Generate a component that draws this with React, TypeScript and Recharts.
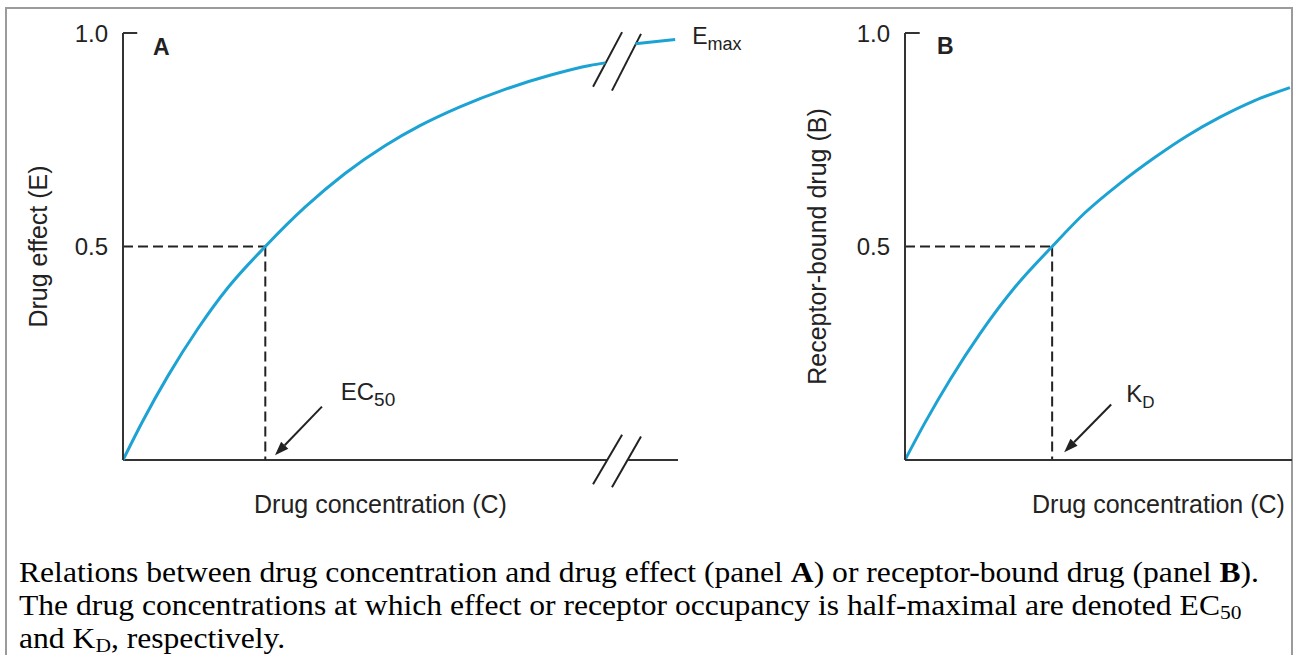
import React from "react";
import { LineChart, Line, XAxis, YAxis, ReferenceLine, ReferenceDot } from "recharts";

// Panel A: drawn concentration (EC50 = 1), effect
const concA = [0, 0.14, 0.316, 0.527, 0.738, 1.0, 1.279, 1.56, 1.841, 2.087, 2.368, 2.684, 3.0, 3.28, 3.39];
const effectA = [0, 0.092, 0.197, 0.308, 0.404, 0.5, 0.592, 0.671, 0.736, 0.783, 0.827, 0.868, 0.901, 0.924, 0.93];
// the bit past the axis break
const concAFar = [3.6, 3.88];
const effectAFar = [0.975, 0.985];

// Panel B: drawn concentration (KD = 1), bound fraction
const concB = [0, 0.136, 0.306, 0.51, 0.748, 1.0, 1.223, 1.461, 1.699, 1.916, 2.141, 2.365, 2.616];
const boundB = [0, 0.0875, 0.188, 0.296, 0.405, 0.5, 0.579, 0.648, 0.709, 0.759, 0.803, 0.84, 0.872];

const yTicks = [0.5, 1.0];

const SANS = "'Liberation Sans', Arial, Helvetica, sans-serif";
const SERIF = "'Liberation Serif', 'Times New Roman', serif";
const INK = "#222";
const AXIS = "#333";
const CURVE = "#1ca3d4";

const rowsA = concA.map((c, i) => ({ c, v: effectA[i] }));
const rowsAFar = concAFar.map((c, i) => ({ c, v: effectAFar[i] }));
const rowsB = concB.map((c, i) => ({ c, v: boundB[i] }));

const fmt = (v: number) => v.toFixed(1);

function Arrow(p: any) {
  const { x1, y1, x2, y2 } = p;
  const a = Math.atan2(y2 - y1, x2 - x1);
  const len = 14;
  const half = 5;
  const bx = x2 - len * Math.cos(a);
  const by = y2 - len * Math.sin(a);
  const nx = -Math.sin(a) * half;
  const ny = Math.cos(a) * half;
  return (
    <g>
      <line x1={x1} y1={y1} x2={bx} y2={by} stroke={INK} strokeWidth={2} />
      <polygon points={`${x2},${y2} ${bx + nx},${by + ny} ${bx - nx},${by - ny}`} fill={INK} />
    </g>
  );
}

const note = (main: string, sub: string, size = 24, subSize = 19) => (p: any) => (
  <text x={p.cx} y={p.cy} fill={INK} fontFamily={SANS} fontSize={size}>
    {main}
    <tspan fontSize={subSize} dy={6}>{sub}</tspan>
  </text>
);

const panelLetter = (s: string) => (p: any) => (
  <text x={p.cx} y={p.cy} fill={INK} fontFamily={SANS} fontSize={23} fontWeight="bold">{s}</text>
);

const xLabel = (shift: number) => (p: any) => {
  const vb = p.viewBox;
  return (
    <text x={vb.x + vb.width / 2 + shift} y={vb.y + 53} textAnchor="middle" fill={INK} fontFamily={SANS} fontSize={25}>
      Drug concentration (C)
    </text>
  );
};

const tickStyle = { fill: INK, fontSize: 24, fontFamily: SANS };
const yLabelStyle = { textAnchor: "middle" as const, fill: INK, fontSize: 25, fontFamily: SANS };
const dash = { stroke: INK, strokeWidth: 2, strokeDasharray: "10 5" };
const solid = { stroke: AXIS, strokeWidth: 2 };

function PanelA() {
  return (
    <LineChart width={760} height={530} margin={{ top: 33, right: 82, bottom: 0, left: 0 }}>
      <XAxis type="number" dataKey="c" domain={[0, 3.9]} tick={false} tickLine={false} axisLine={false} height={70} label={{ content: xLabel(-20) }} />
      <YAxis type="number" domain={[0, 1]} ticks={yTicks} tickFormatter={fmt} width={123} tickLine={false} tickSize={0} tickMargin={15} axisLine={solid} tick={tickStyle}
        label={{ value: "Drug effect (E)", angle: -90, position: "insideLeft", offset: 38, style: yLabelStyle }} />
      {/* broken x axis */}
      <ReferenceLine segment={[{ x: 0, y: 0 }, { x: 3.4, y: 0 }]} {...solid} ifOverflow="visible" />
      <ReferenceLine segment={[{ x: 3.55, y: 0 }, { x: 3.9, y: 0 }]} {...solid} ifOverflow="visible" />
      <ReferenceLine segment={[{ x: 3.303, y: -0.057 }, { x: 3.507, y: 0.059 }]} stroke={INK} strokeWidth={2} ifOverflow="visible" />
      <ReferenceLine segment={[{ x: 3.436, y: -0.064 }, { x: 3.64, y: 0.055 }]} stroke={INK} strokeWidth={2} ifOverflow="visible" />
      {/* break on the curve */}
      <ReferenceLine segment={[{ x: 3.303, y: 0.874 }, { x: 3.507, y: 1.002 }]} stroke={INK} strokeWidth={2} ifOverflow="visible" />
      <ReferenceLine segment={[{ x: 3.436, y: 0.865 }, { x: 3.64, y: 0.998 }]} stroke={INK} strokeWidth={2} ifOverflow="visible" />
      <ReferenceLine segment={[{ x: 0, y: 1 }, { x: 0.1, y: 1 }]} {...solid} ifOverflow="visible" />
      <ReferenceLine segment={[{ x: 0, y: 0.5 }, { x: 1, y: 0.5 }]} {...dash} />
      <ReferenceLine segment={[{ x: 1, y: 0.5 }, { x: 1, y: 0 }]} {...dash} />
      <ReferenceLine segment={[{ x: 1.398, y: 0.125 }, { x: 1.068, y: 0.011 }]} shape={Arrow} />
      <ReferenceDot x={1.53} y={0.141} r={0} shape={note("EC", "50")} />
      <ReferenceDot x={4.0} y={0.975} r={0} shape={note("E", "max", 23, 18)} ifOverflow="visible" />
      <ReferenceDot x={0.21} y={0.948} r={0} shape={panelLetter("A")} />
      <Line data={rowsA} dataKey="v" type="monotone" stroke={CURVE} strokeWidth={3} dot={false} activeDot={false} isAnimationActive={false} />
      <Line data={rowsAFar} dataKey="v" type="monotone" stroke={CURVE} strokeWidth={3} dot={false} activeDot={false} isAnimationActive={false} />
    </LineChart>
  );
}

function PanelB() {
  return (
    <LineChart width={514} height={530} margin={{ top: 33, right: 2, bottom: 0, left: 0 }}>
      <XAxis type="number" dataKey="c" domain={[0, 2.63]} tick={false} tickLine={false} axisLine={solid} height={70} label={{ content: xLabel(60) }} />
      <YAxis type="number" domain={[0, 1]} ticks={yTicks} tickFormatter={fmt} width={125} tickLine={false} tickSize={0} tickMargin={15} axisLine={solid} tick={tickStyle}
        label={{ value: "Receptor-bound drug (B)", angle: -90, position: "insideLeft", offset: 37, style: yLabelStyle }} />
      <ReferenceLine segment={[{ x: 0, y: 1 }, { x: 0.1, y: 1 }]} {...solid} ifOverflow="visible" />
      <ReferenceLine segment={[{ x: 0, y: 0.5 }, { x: 1, y: 0.5 }]} {...dash} />
      <ReferenceLine segment={[{ x: 1, y: 0.5 }, { x: 1, y: 0 }]} {...dash} />
      <ReferenceLine segment={[{ x: 1.401, y: 0.13 }, { x: 1.082, y: 0.018 }]} shape={Arrow} />
      <ReferenceDot x={1.503} y={0.136} r={0} shape={note("K", "D", 24, 17)} />
      <ReferenceDot x={0.218} y={0.95} r={0} shape={panelLetter("B")} />
      <Line data={rowsB} dataKey="v" type="monotone" stroke={CURVE} strokeWidth={3} dot={false} activeDot={false} isAnimationActive={false} />
    </LineChart>
  );
}

const sub = { fontSize: "0.68em", verticalAlign: "-0.2em", lineHeight: 0 };

export default function App() {
  return (
    <div style={{ position: "absolute", left: 0, top: 0, width: 1294, height: 655, overflow: "hidden", background: "#fff" }}>
      <div style={{ position: "absolute", left: 5, top: 7, width: 1288, height: 700, boxSizing: "border-box", borderTop: "2px solid #9b9b9b", borderLeft: "2px solid #9b9b9b", borderRight: "2px solid #9b9b9b" }} />
      <div style={{ position: "absolute", left: 0, top: 0 }}>
        <PanelA />
      </div>
      <div style={{ position: "absolute", left: 780, top: 0 }}>
        <PanelB />
      </div>
      <div style={{ position: "absolute", left: 19, top: 556, fontFamily: SERIF, fontSize: 29, lineHeight: "33px", color: "#000", whiteSpace: "nowrap", transform: "scaleX(1.09)", transformOrigin: "0 0" }}>
        Relations between drug concentration and drug effect (panel <b>A</b>) or receptor-bound drug (panel <b>B</b>).
        <br />
        The drug concentrations at which effect or receptor occupancy is half-maximal are denoted EC<span style={sub}>50</span>
        <br />
        and K<span style={sub}>D</span>, respectively.
      </div>
    </div>
  );
}
